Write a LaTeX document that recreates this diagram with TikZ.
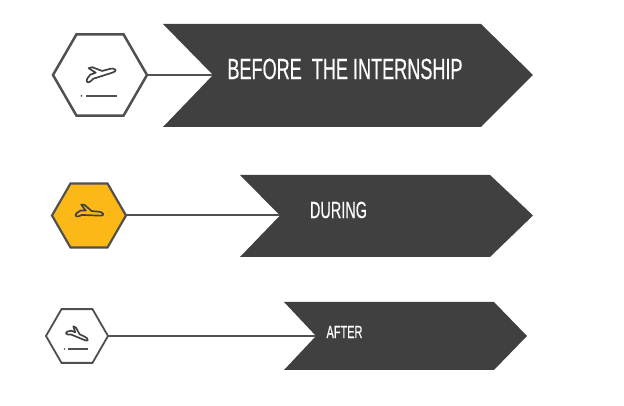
\documentclass[tikz,border=0pt]{standalone}
\usepackage{fontspec}
\newfontfamily\narrowfont[FakeStretch=0.62, FakeBold=0.4]{Liberation Sans}
\usetikzlibrary{calc, shapes.geometric}
\definecolor{darkbody}{HTML}{404040}
\definecolor{edgegray}{HTML}{505050}
\definecolor{hexyellow}{HTML}{FBB817}
\tikzset{
    hexnode/.style={draw=edgegray, regular polygon, regular polygon sides=6, inner sep=0pt, outer sep=0pt},
    tag/.style={text=white, inner sep=0pt},
    link/.style={draw=edgegray, line width=1.2pt},
    jet/.pic={
        \draw[darkbody, line width=1pt, line join=round]
            (17,0) .. controls (16,2) and (14,2.5) .. (10,2.5) -- (3,2.5) -- (-6,9) -- (-10,9) -- (-4,2.5) -- (-10,2) -- (-14,-1) .. controls (-17,-4) and (-15,-6) .. (-12,-5) -- (-8,-3) -- (13,-2) .. controls (16,-2) and (17,-1) .. (17,0) -- cycle;
    }
}
\begin{document}
\begin{tikzpicture}[x=0.6pt, y=0.6pt]
    \useasboundingbox (0,0) rectangle (624,406);
    % top row
    \coordinate (notcha) at (213,331);
    \fill[darkbody] (163,382)--(481,382)--(533,331)--(481,279)--(163,279)--(notcha)--cycle;
    \node[hexnode, line width=1.5pt, minimum size=56.4pt] (hexa) at (100,331) {};
    \draw[link] (hexa.east)--(notcha);
    \node[tag, font=\narrowfont\fontsize{17.5}{20}\selectfont] (texta) at (345,337) {BEFORE\ \ THE INTERNSHIP};
    \pic[rotate=15, scale=0.95] at (100,332) {jet};
    \coordinate (dasha) at (86,310);
    \coordinate (dashb) at (117,310);
    \draw[edgegray, line width=0.8pt] (dasha)--(dashb);
    \fill[edgegray] (81.5,310) circle (1);
    % middle row
    \coordinate (notchb) at (280,190.5);
    \fill[darkbody] (240,231)--(490,231)--(533,190.5)--(490,149)--(240,149)--(notchb)--cycle;
    \node[hexnode, fill=hexyellow, line width=1.3pt, minimum size=44.4pt] (hexb) at (89,190.5) {};
    \draw[link] (hexb.east)--(notchb);
    \node[tag, font=\narrowfont\fontsize{14}{16}\selectfont] (textb) at (338.5,196) {DURING};
    \pic[rotate=-5, scale=0.85] at (89,193) {jet};
    % bottom row
    \coordinate (notchc) at (316,70);
    \fill[darkbody] (284,104)--(494,104)--(527,70)--(494,36)--(284,36)--(notchc)--cycle;
    \node[hexnode, line width=1.1pt, minimum size=37.2pt] (hexc) at (77,70) {};
    \draw[link] (hexc.east)--(notchc);
    \node[tag, font=\narrowfont\fontsize{10.6}{12}\selectfont] (textc) at (344.5,74) {AFTER};
    \pic[rotate=-25, scale=0.7] at (77,71) {jet};
    \coordinate (dashc) at (68,57);
    \coordinate (dashd) at (88,57);
    \draw[edgegray, line width=0.7pt] (dashc)--(dashd);
    \fill[edgegray] (64.5,57) circle (0.8);
\end{tikzpicture}
\end{document}
